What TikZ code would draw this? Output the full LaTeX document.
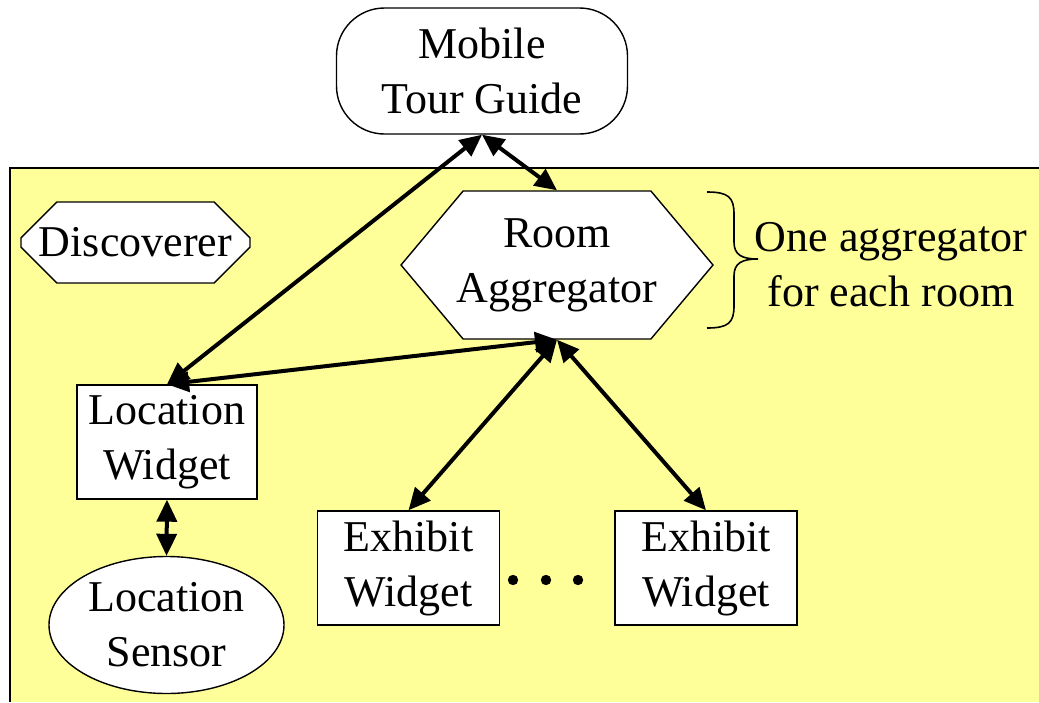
\documentclass[tikz,border=0pt]{standalone}
\usepackage{fontspec}
\setmainfont{Liberation Serif}
\usetikzlibrary{positioning,arrows.meta,shapes.geometric,shapes.misc,shapes.symbols}
\definecolor{roomyellow}{RGB}{255,255,153}

\begin{document}
\begin{tikzpicture}[x=0.5pt,y=-0.5pt,
  every node/.style={font=\fontsize{22}{27.5}\selectfont,align=center,inner sep=0pt},
  box/.style={draw,fill=white,line width=0.7pt,minimum width=91pt,minimum height=57pt},
  link/.style={<->,>={Triangle[length=11pt,width=10pt]},line width=2pt}]
  \useasboundingbox (0,0) rectangle (1039,702);
  \fill[roomyellow] (10,168) rectangle (1039,702);
  \draw[line width=0.7pt] (10,702) -- (10,168) -- (1039,168);

  \node[draw,fill=white,line width=0.7pt,rounded corners=24pt,minimum width=145.5pt,minimum height=63pt] (guide) at (482,71) {Mobile\\Tour Guide};
  \node[signal,signal to=east and west,signal pointer angle=100,draw,fill=white,line width=0.7pt,inner xsep=-5pt,minimum width=156pt,minimum height=74pt] (agg) at (557,265) {Room\\Aggregator};
  \node[chamfered rectangle,chamfered rectangle xsep=10.5pt,chamfered rectangle ysep=10.5pt,draw,fill=white,line width=0.7pt,minimum width=114.5pt,minimum height=40.5pt] (disc) at (135.5,242.5) {Discoverer};

  \node[box,minimum width=90pt] (locw) at (167,442) {Location\\Widget};
  \node[ellipse,draw,fill=white,line width=0.7pt,minimum width=117.5pt,minimum height=68.5pt] (sensor) at (166.5,625) {Location\\Sensor};
  \node[box] (exh1) at (408.5,568) {Exhibit\\Widget};
  \node[box] (exh2) at (706,568) {Exhibit\\Widget};
  \foreach \x in {513,546,578}
    \fill (\x,580) circle[radius=2.6pt];

  \node (note) at (891,265) {One aggregator\\for each room};
  % brace beside the aggregator
  \draw[line width=0.8pt] (707,192) .. controls (728,192) and (734,197) .. (734,214) -- (734,242)
    .. controls (734,255) and (742,259) .. (758,259) .. controls (742,259) and (734,263) .. (734,276)
    -- (734,306) .. controls (734,323) and (728,328) .. (707,328);

  \draw[link] (guide.south) -- (locw.north);
  \draw[link] (guide.south) -- (agg.north);
  \draw[link] (locw.north) -- (agg.south);
  \draw[link] (agg.south) -- (exh1.north);
  \draw[link] (agg.south) -- (exh2.north);
  \draw[link] (locw.south) -- (sensor.north);
\end{tikzpicture}
\end{document}
